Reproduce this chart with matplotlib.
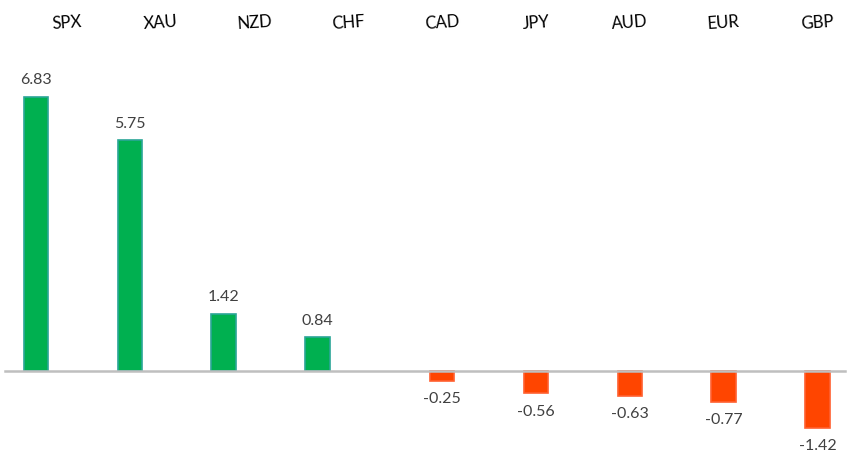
import matplotlib
matplotlib.use("Agg")
import matplotlib.pyplot as plt
import numpy as np

categories = ["SPX", "XAU", "NZD", "CHF", "CAD", "JPY", "AUD", "EUR", "GBP"]
values = [6.83, 5.75, 1.42, 0.84, -0.25, -0.56, -0.63, -0.77, -1.42]
value_labels = ["6.83", "5.75", "1.42", "0.84", "-0.25", "-0.56", "-0.63", "-0.77", "-1.42"]

plt.rcParams['font.family'] = ['Lato', 'DejaVu Sans']

fig = plt.figure(figsize=(8.59, 4.65), dpi=100)
ax = fig.add_axes([0, 0, 1, 1])
ax.set_xlim(-0.714, 8.443)
ax.set_ylim(-2.344, 9.25)
ax.axis('off')

green, green_edge = "#00B050", "#2BA697"
red, red_edge = "#FF4500", "#FF6030"
pos_offset = -0.33
bar_w = 0.26

for i, (v, lab) in enumerate(zip(values, value_labels)):
    if v >= 0:
        x = i + pos_offset
        ax.bar(x, v, width=bar_w, color=green, edgecolor=green_edge, linewidth=1.2, zorder=2)
        ax.annotate(lab, (x, v), xytext=(0, 7), textcoords='offset points',
                    ha='center', va='bottom', fontsize=11.5, color='#404040')
    else:
        x = i
        ax.bar(x, v, width=bar_w, color=red, edgecolor=red_edge, linewidth=1.2, zorder=2)
        ax.annotate(lab, (x, v), xytext=(0, -8), textcoords='offset points',
                    ha='center', va='top', fontsize=11.5, color='#404040')
    ax.text(i, 8.68, categories[i], ha='center', va='center', fontsize=12,
            color='black', rotation=4)

ax.axhline(0, xmin=5/859, xmax=845/859, color='#BFBFBF', linewidth=1.8, zorder=3)

fig.savefig("out.png", dpi=100)
